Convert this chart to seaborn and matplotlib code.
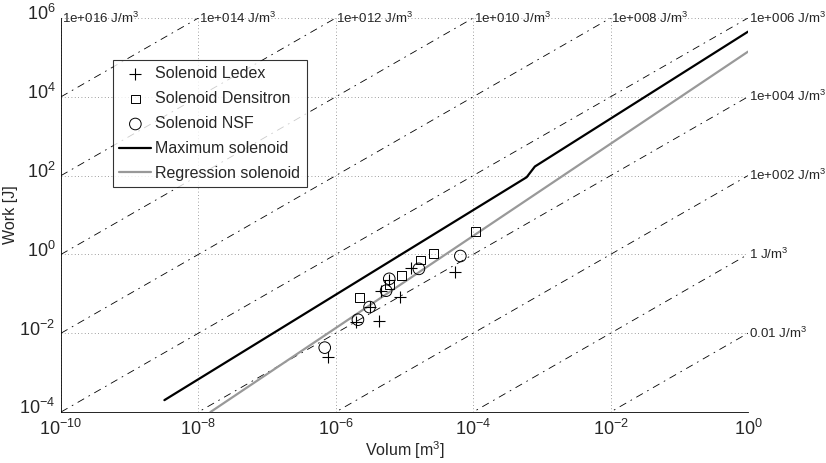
import numpy as np
import pandas as pd
import seaborn as sns
import matplotlib.pyplot as plt
import matplotlib.transforms as mtransforms
from matplotlib.ticker import FixedLocator, LogLocator, NullFormatter

# measured solenoids (volume in m^3, work in J)
ledex_vol = [1.26e-5, 5.5e-5, 6.0e-6, 4.6e-6, 8.7e-6, 3.1e-6, 1.95e-6, 4.2e-6, 7.8e-7]
ledex_work = [0.45, 0.36, 0.22, 0.115, 0.085, 0.046, 0.0195, 0.020, 0.0025]

densitron_vol = [1.07e-4, 2.66e-5, 1.7e-5, 9.1e-6, 6.0e-6, 2.2e-6]
densitron_work = [3.8, 1.07, 0.72, 0.29, 0.17, 0.081]

nsf_vol = [6.5e-5, 1.62e-5, 6.0e-6, 5.4e-6, 3.1e-6, 2.1e-6, 6.9e-7]
nsf_work = [0.91, 0.43, 0.24, 0.12, 0.046, 0.022, 0.0043]

# maximum and regression curves
max_vol = [3.2e-9, 6.0e-4, 7.9e-4, 1.0]
max_work = [2.0e-4, 91.0, 170.0, 4.5e5]
reg_vol = [1.5e-8, 1.0]
reg_work = [1.0e-4, 1.4e5]

# constant energy density lines (J/m^3)
densities = [1e-2, 1e0, 1e2, 1e4, 1e6, 1e8, 1e10, 1e12, 1e14, 1e16]
density_labels = ['0.01', '1', '1e+002', '1e+004', '1e+006',
                  '1e+008', '1e+010', '1e+012', '1e+014', '1e+016']

x_ticks = [1e-10, 1e-8, 1e-6, 1e-4, 1e-2, 1e0]
y_ticks = [1e-4, 1e-2, 1e0, 1e2, 1e4, 1e6]

sns.set_style("white")
plt.rcParams['font.family'] = ['Liberation Sans', 'DejaVu Sans']
plt.rcParams['mathtext.fontset'] = 'custom'
plt.rcParams['mathtext.rm'] = 'Liberation Sans'
plt.rcParams['mathtext.it'] = 'Liberation Sans:italic'

fig = plt.figure(figsize=(8.26, 4.63), dpi=100)
ax = fig.add_axes([61 / 826, 1 - 412 / 463, 687 / 826, 394 / 463])

xmin, xmax = x_ticks[0], x_ticks[-1]
ymin, ymax = y_ticks[0], y_ticks[-1]

# iso energy density lines
for e, lab in zip(densities, density_labels):
    ax.plot([xmin, xmax], [e * xmin, e * xmax], color='black', lw=0.6,
            linestyle=(0, (9, 6, 2, 6)), zorder=1)
    if e * xmax <= ymax:
        ax.text(xmax * 1.02, e * xmax, f'{lab} J/m$^3$', ha='left', va='center',
                fontsize=9.6, clip_on=False)
    else:
        ax.text(ymax / e * 1.02, ymax, f'{lab} J/m$^3$', ha='left', va='center',
                fontsize=9.6, clip_on=False)

sns.scatterplot(x=ledex_vol, y=ledex_work, marker='+', s=70, color='black',
                linewidth=0.8, label='Solenoid Ledex', ax=ax, zorder=4)
sns.scatterplot(x=densitron_vol, y=densitron_work, marker='s', s=40,
                facecolor='none', edgecolor='black', linewidth=0.7,
                label='Solenoid Densitron', ax=ax, zorder=4)
sns.scatterplot(x=nsf_vol, y=nsf_work, marker='o', s=70,
                facecolor='none', edgecolor='black', linewidth=0.7,
                label='Solenoid NSF', ax=ax, zorder=4)
sns.lineplot(x=max_vol, y=max_work, color='black', lw=1.6, sort=False,
             label='Maximum solenoid', ax=ax, zorder=3)
sns.lineplot(x=reg_vol, y=reg_work, color='0.6', lw=1.6, sort=False,
             label='Regression solenoid', ax=ax, zorder=3)

ax.set_xscale('log')
ax.set_yscale('log')
ax.set_xlim(xmin, xmax)
ax.set_ylim(ymin, ymax)
ax.xaxis.set_major_locator(FixedLocator(x_ticks))
ax.yaxis.set_major_locator(FixedLocator(y_ticks))
ax.xaxis.set_minor_locator(LogLocator(base=10, subs=np.arange(1, 10), numticks=200))
ax.yaxis.set_minor_locator(LogLocator(base=10, subs=np.arange(1, 10), numticks=200))
ax.xaxis.set_minor_formatter(NullFormatter())
ax.yaxis.set_minor_formatter(NullFormatter())
ax.tick_params(which='both', direction='in', top=False, right=False, labelsize=13, color='black')
ax.tick_params(which='major', length=5, width=0.6)
ax.tick_params(which='minor', length=3, width=0.5)
ax.tick_params(axis='x', pad=5)
ax.tick_params(axis='y', pad=4)

# lift the y tick labels a little, like the original
lift = mtransforms.ScaledTranslation(0, 4 / 72, fig.dpi_scale_trans)
for lbl in ax.get_yticklabels():
    lbl.set_transform(lbl.get_transform() + lift)

ax.grid(True, which='major', color='0.5', linestyle=(0, (1, 3)), linewidth=0.6)
for side in ['top', 'right']:
    ax.spines[side].set_visible(False)
for side in ['left', 'bottom']:
    ax.spines[side].set_color('black')
    ax.spines[side].set_linewidth(0.6)

ax.set_xlabel('Volum [m$^3$]', fontsize=11.5, labelpad=0)
ax.set_ylabel('Work [J]', fontsize=11.5, labelpad=1)

leg = ax.legend(loc='upper left', bbox_to_anchor=((113 - 61) / 687, (412 - 60) / 394),
                borderaxespad=0, fontsize=11.5, frameon=True, fancybox=False,
                edgecolor='black', handlelength=2.0, labelspacing=0.62,
                handletextpad=0.25, borderpad=0.4)
leg.get_frame().set_linewidth(0.8)

fig.savefig('out.png', dpi=100)
